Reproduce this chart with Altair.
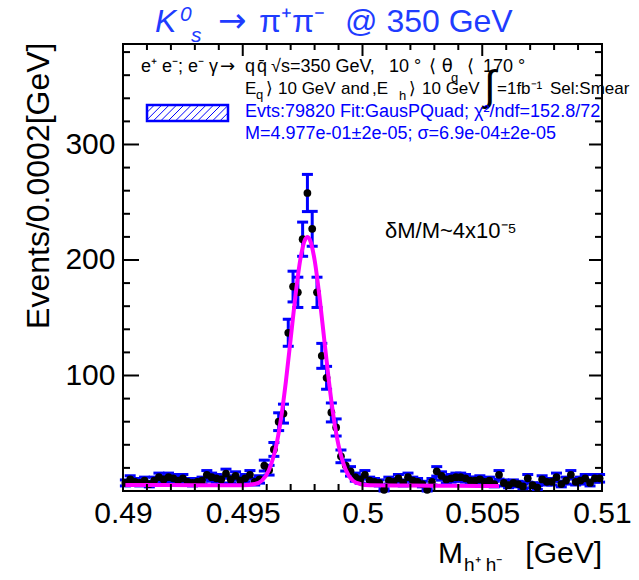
import altair as alt
import pandas as pd

# ---------------- data ----------------
bin_centers = [round(0.4901 + 0.0002 * i, 4) for i in range(100)]
counts = [7, 10, 8, 7, 9, 6, 9, 12, 10, 12,
          11, 9, 11, 8, 7, 8, 9, 14, 12, 11,
          10, 15, 10, 13, 9, 11, 14, 8, 10, 22,
          18, 36, 60, 67, 137, 177, 172, 218, 258, 227,
          172, 117, 98, 68, 55, 30, 22, 17, 12, 10,
          14, 9, 8, 7, 1, 9, 8, 11, 7, 12,
          9, 8, 6, 1, 8, 17, 13, 10, 11, 12,
          12, 11, 9, 9, 10, 8, 9, 6, 14, 7,
          5, 7, 6, 4, 11, 5, 3, 10, 8, 8,
          12, 6, 9, 14, 8, 9, 11, 7, 11, 11]
errors = [2.6, 3.2, 2.8, 2.6, 3.0, 2.4, 3.0, 3.5, 3.2, 3.5,
          3.3, 3.0, 3.3, 2.8, 2.6, 2.8, 3.0, 3.7, 3.5, 3.3,
          3.2, 3.9, 3.2, 3.6, 3.0, 3.3, 3.7, 2.8, 3.2, 4.7,
          4.2, 6.0, 7.7, 8.2, 11.7, 13.3, 13.1, 14.8, 16.1, 15.1,
          13.1, 10.8, 9.9, 8.2, 7.4, 5.5, 4.7, 4.1, 3.5, 3.2,
          3.7, 3.0, 2.8, 2.6, 1.0, 3.0, 2.8, 3.3, 2.6, 3.5,
          3.0, 2.8, 2.4, 1.0, 2.8, 4.1, 3.6, 3.2, 3.3, 3.5,
          3.5, 3.3, 3.0, 3.0, 3.2, 2.8, 3.0, 2.4, 3.7, 2.6,
          2.2, 2.6, 2.4, 2.0, 3.3, 2.2, 1.7, 3.2, 2.8, 2.8,
          3.5, 2.4, 3.0, 3.7, 2.8, 3.0, 3.3, 2.6, 3.3, 3.3]

# fit curve (GausPQuad)
fit_x = [0.4901, 0.4920, 0.4940, 0.4950, 0.4955, 0.4958, 0.4961, 0.4964, 0.4966,
         0.4968, 0.4970, 0.4972, 0.4974, 0.4976, 0.4977, 0.4978, 0.4980, 0.4982,
         0.4984, 0.4986, 0.4988, 0.4990, 0.4993, 0.4996, 0.4999, 0.5003, 0.5020,
         0.5040, 0.5057]
fit_y = [5.2, 5.1, 5.0, 5.0, 6.0, 9.0, 18.5, 39.5, 63.0,
         94.6, 131.6, 169.0, 200.0, 217.7, 220.0, 217.7, 200.0, 169.0,
         131.6, 94.6, 63.0, 39.5, 18.5, 9.0, 6.1, 5.0, 4.7,
         4.5, 4.3]

x_major = [0.49, 0.495, 0.5, 0.505, 0.51]
x_minor = [0.491, 0.492, 0.493, 0.494, 0.496, 0.497, 0.498, 0.499,
           0.501, 0.502, 0.503, 0.504, 0.506, 0.507, 0.508, 0.509]
y_major = [100, 200, 300]
y_minor = [20, 40, 60, 80, 120, 140, 160, 180, 220, 240, 260, 280, 320, 340, 360, 380]

y_title = "Events/0.0002[GeV]"
x_title_parts = ["M", "h\u207a h\u207b", "[GeV]"]
resolution_text = "\u03b4M/M~4x10\u207b\u2075"
line3 = "Evts:79820 Fit:GausPQuad; \u03c7\u00b2/ndf=152.8/72"
line4 = "M=4.977e-01\u00b12e-05; \u03c3=6.9e-04\u00b12e-05"

# ---------------- layout ----------------
W, H = 479, 447
L, T = 123, 44
FONT = "Liberation Sans"
SYM = "DejaVu Sans"
BLUE = "#0000ff"
TBLUE = "#1f3cff"
LS1 = 18  # first black legend line
LS2 = 17  # second black legend line

xs = alt.Scale(domain=[0.49, 0.51], nice=False, zero=False)
ys = alt.Scale(domain=[0, 387], nice=False, zero=False)

x_axis = alt.Axis(values=x_major, format="~g", ticks=False, domain=False,
                  grid=False, title=None, labelFontSize=30, labelFont=FONT,
                  labelColor="black", labelPadding=7, labelFlush=False)
y_axis = alt.Axis(values=y_major, format="d", ticks=False, domain=False,
                  grid=False, labelFontSize=30, labelFont=FONT,
                  labelColor="black", labelPadding=8,
                  title=y_title, titleFont=FONT, titleFontSize=32,
                  titleFontWeight="normal", titleColor="black",
                  titleAngle=270, titleAlign="right",
                  titleBaseline="alphabetic", titleX=-75, titleY=-2)

hist = pd.DataFrame({"m": bin_centers, "n": counts, "e": errors})
hist["lo"] = hist["n"] - hist["e"]
hist["hi"] = hist["n"] + hist["e"]
fit = pd.DataFrame({"m": fit_x, "f": fit_y})

base = alt.Chart(hist)
X = alt.X("m:Q", scale=xs, axis=x_axis)

bars = base.mark_rule(color=BLUE, strokeWidth=3).encode(
    x=X, y=alt.Y("lo:Q", scale=ys, axis=y_axis), y2="hi:Q")
cap_lo = base.mark_point(shape="M-1,0L1,0", size=121, filled=False, strokeWidth=3,
                         color=BLUE, opacity=1).encode(
    x=X, y=alt.Y("lo:Q", scale=ys, axis=y_axis))
cap_hi = base.mark_point(shape="M-1,0L1,0", size=121, filled=False, strokeWidth=3,
                         color=BLUE, opacity=1).encode(
    x=X, y=alt.Y("hi:Q", scale=ys, axis=y_axis))
points = base.mark_circle(color="black", size=60, opacity=1).encode(
    x=X, y=alt.Y("n:Q", scale=ys, axis=y_axis))
curve = alt.Chart(fit).mark_line(color="#ff00ff", strokeWidth=4,
                                 interpolate="monotone").encode(
    x=X, y=alt.Y("f:Q", scale=ys, axis=y_axis))


def ticks_x(vals, top, length):
    d = pd.DataFrame({"m": vals})
    y0 = 0 if top else H
    y1 = length if top else H - length
    return alt.Chart(d).mark_rule(color="black", strokeWidth=2).encode(
        x=X, y=alt.value(y0), y2=alt.value(y1))


def ticks_y(vals, right, length):
    d = pd.DataFrame({"n": vals})
    x0 = W if right else 0
    x1 = W - length if right else length
    return alt.Chart(d).mark_rule(color="black", strokeWidth=2).encode(
        y=alt.Y("n:Q", scale=ys, axis=y_axis), x=alt.value(x0), x2=alt.value(x1))


tick_layers = [ticks_x(x_major, False, 14), ticks_x(x_minor, False, 7),
               ticks_x(x_major, True, 12), ticks_x(x_minor, True, 6),
               ticks_y(y_major, False, 16), ticks_y(y_minor, False, 7),
               ticks_y(y_major, True, 13), ticks_y(y_minor, True, 7)]


def txt(s, px, py, size, color="black", italic=False, align="left", font=FONT):
    d = pd.DataFrame({"t": [s]})
    return alt.Chart(d).mark_text(align=align, baseline="alphabetic", fontSize=size,
                                  font=font, color=color,
                                  fontStyle="italic" if italic else "normal").encode(
        x=alt.value(px - L), y=alt.value(py - T), text="t:N")


texts = [
    # title
    txt("K", 155, 32, 32, TBLUE, italic=True),
    txt("0", 180, 21, 21, TBLUE, italic=True),
    txt("s", 191, 42, 21, TBLUE, italic=True),
    txt("\u2192", 218, 32, 34, TBLUE, font=SYM),
    txt("\u03c0\u207a\u03c0\u207b", 259, 32, 32, TBLUE),
    txt("@ 350 GeV", 345, 32, 32, TBLUE),
    # legend line 1
    txt("e\u207a e\u207b; e\u207b \u03b3", 141, 72, LS1),
    txt("\u2192", 220, 72, LS1, font=SYM),
    txt("q", 245, 72, LS1),
    txt("q\u0304", 257, 72, LS1),
    txt("\u221as=350 GeV,", 271, 72, LS1),
    txt("10 \u00b0", 389, 72, LS1),
    txt("\u27e8 \u03b8", 429, 72, LS1, font=SYM),
    txt("q", 451, 82, 13),
    txt("\u27e8", 467, 72, LS1, font=SYM),
    txt("170 \u00b0", 483, 72, LS1),
    # legend line 2
    txt("E", 245, 94, LS2),
    txt("q", 256, 99, 13),
    txt("\u27e9", 266, 94, LS2, font=SYM),
    txt("10 GeV", 278, 94, LS2),
    txt("and", 341, 94, LS2),
    txt(",E", 372, 94, LS2),
    txt("h", 399, 100, 13),
    txt("\u27e9", 409, 94, LS2, font=SYM),
    txt("10 GeV", 422, 94, LS2),
    txt("\u222b", 484, 100, 42),
    txt("=1fb\u207b\u00b9", 497, 94, LS2),
    txt("Sel:Smear", 550, 94, LS2),
    # legend lines 3, 4
    txt(line3, 245, 117, 18, BLUE),
    txt(line4, 245, 139, 18, BLUE),
    # resolution
    txt(resolution_text, 385, 238, 22),
    # x title
    txt(x_title_parts[0], 438, 563, 30),
    txt(x_title_parts[1], 464, 571, 19),
    txt(x_title_parts[2], 602, 563, 30, align="right"),
]

# hatched legend box (decoration, pixel space of the plot area)
bx0, bx1, by0, by1 = 147 - L, 228 - L, 105 - T, 121 - T
segs = []
step = 7.4
h = by1 - by0
s = bx0 - h
while s < bx1:
    xa, ya = s, by1
    xb, yb = s + h, by0
    if xa < bx0:
        ya = by1 - (bx0 - xa)
        xa = bx0
    if xb > bx1:
        yb = by0 + (xb - bx1)
        xb = bx1
    if xb > xa:
        segs.append({"x": xa, "y": ya, "x2": xb, "y2": yb})
    s += step
hatch = alt.Chart(pd.DataFrame(segs)).mark_rule(color=BLUE, strokeWidth=1).encode(
    x=alt.X("x:Q", scale=None), y=alt.Y("y:Q", scale=None),
    x2="x2:Q", y2="y2:Q")
box = alt.Chart(pd.DataFrame({"a": [0]})).mark_rect(
    filled=False, stroke=BLUE, strokeWidth=2.5, fill=None).encode(
    x=alt.value(bx0), x2=alt.value(bx1), y=alt.value(by0), y2=alt.value(by1))

chart = alt.layer(bars, cap_lo, cap_hi, points, curve, *tick_layers, hatch, box,
                  *texts).properties(
    width=W, height=H,
    autosize=alt.AutoSizeParams(type="none"),
    padding={"left": L, "top": T, "right": 639 - L - W, "bottom": 580 - T - H},
    background="white",
).configure_view(stroke="black", strokeWidth=2)

chart.save("out.html", embed_options={"renderer": "svg", "actions": False})
